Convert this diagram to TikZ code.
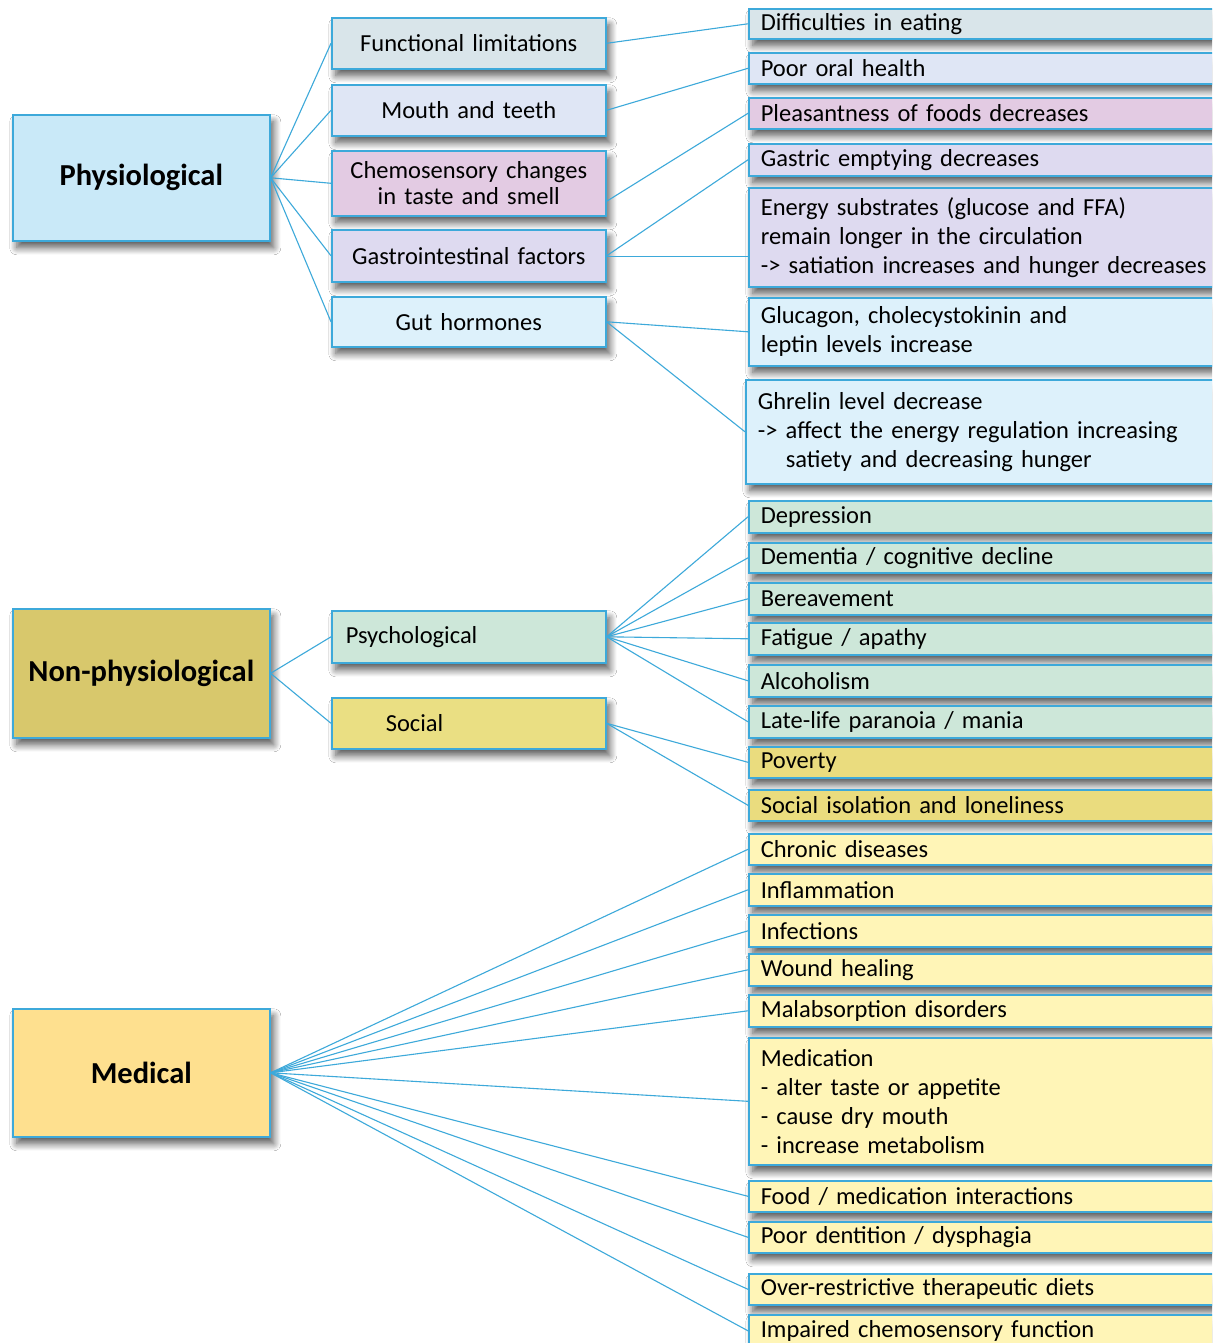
\documentclass[tikz,border=0pt]{standalone}
\usepackage{fontspec}
\setmainfont{Carlito}
\usepackage{tikz}
\usetikzlibrary{positioning,calc,shadows.blur}

\definecolor{linkblue}{HTML}{3DA9DA}
\definecolor{cphys}{HTML}{C9E9F8}
\definecolor{cfunc}{HTML}{D9E5EA}
\definecolor{cmouth}{HTML}{DFE6F5}
\definecolor{cchemo}{HTML}{E3CBE3}
\definecolor{cgastro}{HTML}{DEDAF0}
\definecolor{cgut}{HTML}{DDF1FB}
\definecolor{cnonph}{HTML}{D8C86C}
\definecolor{cpsych}{HTML}{CDE7D9}
\definecolor{csocial}{HTML}{EADF83}
\definecolor{cpoor}{HTML}{EADC7E}
\definecolor{cmed}{HTML}{FEE08F}
\definecolor{cmeditem}{HTML}{FFF5B7}

\tikzset{
  boxshadow/.style={blur shadow={shadow xshift=4pt,shadow yshift=-7pt,shadow blur radius=7pt,shadow blur steps=10,shadow opacity=65}},
  mainbox/.style={draw=linkblue,line width=1.6pt,anchor=north west,boxshadow,
    minimum width=257pt,font=\bfseries\fontsize{30.5}{34}\selectfont},
  subbox/.style={draw=linkblue,line width=1.6pt,anchor=north west,boxshadow,
    minimum width=274pt,text width=256pt,inner xsep=9pt,align=center,font=\fontsize{24.5}{28}\selectfont},
  itembox/.style={draw=linkblue,line width=1.6pt,anchor=north west,boxshadow,
    minimum width=480pt,text width=456pt,inner xsep=12pt,inner ysep=0pt,align=left,
    font=\fontsize{24.5}{29}\selectfont},
  link/.style={linkblue,line width=1.1pt}
}

\begin{document}
\begin{tikzpicture}[x=1pt,y=-1pt]
\clip (0,0) rectangle (1212,1343);
\fill[white] (0,0) rectangle (1212,1343);

% main categories
\node[mainbox,fill=cphys,minimum height=126pt] (phys) at (12,114) {Physiological};
\node[mainbox,fill=cnonph,minimum height=129pt] (nonph) at (12,608) {Non-physiological};
\node[mainbox,fill=cmed,minimum height=128pt] (med) at (12,1008) {Medical};

% second level
\node[subbox,fill=cfunc,minimum height=51pt] (func) at (331,17) {Functional limitations};
\node[subbox,fill=cmouth,minimum height=51pt] (mouth) at (331,84) {Mouth and teeth};
\node[subbox,fill=cchemo,minimum height=65pt,font=\fontsize{24.5}{26}\selectfont] (chemo) at (331,150) {Chemosensory changes\\in taste and smell};
\node[subbox,fill=cgastro,minimum height=52pt] (gastro) at (331,229) {Gastrointestinal factors};
\node[subbox,fill=cgut,minimum height=50pt] (gut) at (331,296) {Gut hormones};
\node[subbox,fill=cpsych,minimum height=52pt,align=left,inner xsep=14pt,text width=246pt] (psych) at (331,610) {Psychological};
\node[subbox,fill=csocial,minimum height=51pt,align=left,inner xsep=14pt,text width=246pt] (social) at (331,697) {\hspace*{40pt}Social};

% physiological items
\node[itembox,fill=cfunc,minimum height=30pt] (eat) at (748,8) {Difficulties in eating};
\node[itembox,fill=cmouth,minimum height=31pt] (oral) at (748,52) {Poor oral health};
\node[itembox,fill=cchemo,minimum height=31pt] (pleas) at (748,97) {Pleasantness of foods decreases};
\node[itembox,fill=cgastro,minimum height=32pt] (gastric) at (748,143) {Gastric emptying decreases};
\node[itembox,fill=cgastro,minimum height=99pt] (energy) at (748,187) {Energy substrates (glucose and FFA)\\remain longer in the circulation\\-> satiation increases and hunger decreases};
\node[itembox,fill=cgut,minimum height=68pt] (gluc) at (748,297) {Glucagon, cholecystokinin and\\leptin levels increase};
\node[itembox,fill=cgut,minimum height=104pt] (ghrel) at (745,379) {Ghrelin level decrease\\-> affect the energy regulation increasing\\\hspace*{28pt}satiety and decreasing hunger};

% non-physiological items
\node[itembox,fill=cpsych,minimum height=32pt] (depr) at (748,500) {Depression};
\node[itembox,fill=cpsych,minimum height=30pt] (dement) at (748,542) {Dementia / cognitive decline};
\node[itembox,fill=cpsych,minimum height=32pt] (bereav) at (748,582) {Bereavement};
\node[itembox,fill=cpsych,minimum height=32pt] (fatig) at (748,622) {Fatigue / apathy};
\node[itembox,fill=cpsych,minimum height=32pt] (alcoh) at (748,664) {Alcoholism};
\node[itembox,fill=cpsych,minimum height=32pt] (para) at (748,705) {Late-life paranoia / mania};
\node[itembox,fill=cpoor,minimum height=31pt] (pov) at (748,746) {Poverty};
\node[itembox,fill=cpoor,minimum height=31pt] (isol) at (748,789) {Social isolation and loneliness};

% medical items
\node[itembox,fill=cmeditem,minimum height=31pt] (chron) at (748,833) {Chronic diseases};
\node[itembox,fill=cmeditem,minimum height=32pt] (infl) at (748,873) {Inflammation};
\node[itembox,fill=cmeditem,minimum height=32pt] (infec) at (748,914) {Infections};
\node[itembox,fill=cmeditem,minimum height=32pt] (wound) at (748,953) {Wound healing};
\node[itembox,fill=cmeditem,minimum height=32pt] (malab) at (748,994) {Malabsorption disorders};
\node[itembox,fill=cmeditem,minimum height=127pt] (medic) at (748,1037) {Medication\\- alter taste or appetite\\- cause dry mouth\\- increase metabolism};
\node[itembox,fill=cmeditem,minimum height=31pt] (fdmed) at (748,1180) {Food / medication interactions};
\node[itembox,fill=cmeditem,minimum height=31pt] (dent) at (748,1221) {Poor dentition / dysphagia};
\node[itembox,fill=cmeditem,minimum height=31pt] (diet) at (748,1273) {Over-restrictive therapeutic diets};
\node[itembox,fill=cmeditem,minimum height=32pt] (senso) at (748,1314) {Impaired chemosensory function};

% connectors
\foreach \t in {func,mouth,chemo,gastro,gut} \draw[link] (phys.east) -- (\t.west);
\foreach \t in {psych,social} \draw[link] (nonph.east) -- (\t.west);
\draw[link] (func.east) -- (eat.west);
\draw[link] (mouth.east) -- (oral.west);
\draw[link] ([yshift=-18pt]chemo.east) -- (pleas.west);
\draw[link] (gastro.east) -- (gastric.west);
\draw[link] ([yshift=-0.5pt]gastro.east) -- ([yshift=-0.5pt]gastro.east -| energy.west);
\draw[link] (gut.east) -- (gluc.west);
\draw[link] (gut.east) -- (ghrel.west);
\foreach \t in {depr,dement,bereav,fatig,alcoh,para} \draw[link] (psych.east) -- (\t.west);
\foreach \t in {pov,isol} \draw[link] (social.east) -- (\t.west);
\foreach \t in {chron,infl,infec,wound,malab,medic,fdmed,dent,diet,senso} \draw[link] (med.east) -- (\t.west);
\end{tikzpicture}
\end{document}
